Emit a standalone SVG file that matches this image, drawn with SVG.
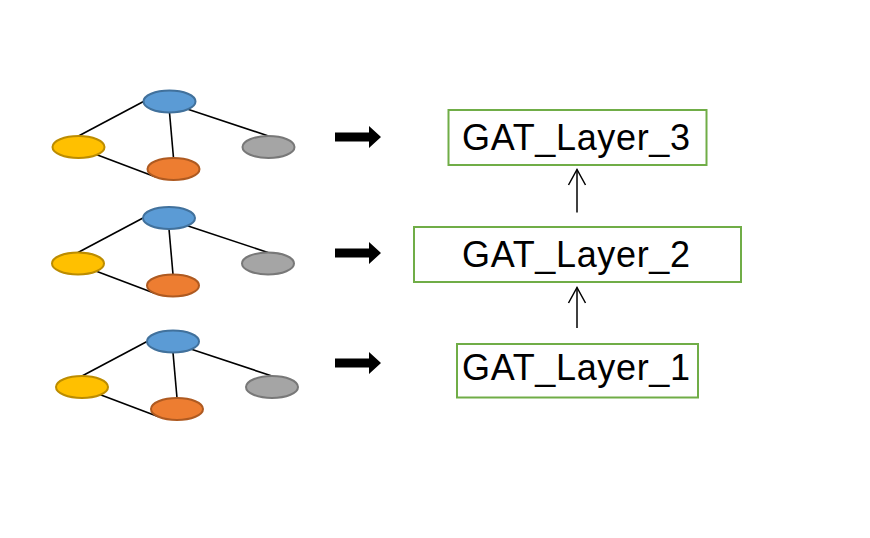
<svg xmlns="http://www.w3.org/2000/svg" width="870" height="538" viewBox="0 0 870 538">
<style>
.edge{stroke:#000;stroke-width:1.6;fill:none}
.nb{fill:#5B9BD5;stroke:#41719C;stroke-width:2}
.ny{fill:#FFC000;stroke:#BC8C00;stroke-width:2}
.no{fill:#ED7D31;stroke:#AE5A21;stroke-width:2}
.ng{fill:#A5A5A5;stroke:#787878;stroke-width:2}
.box{fill:#fff;stroke:#70AD47;stroke-width:2}
.lbl{font-family:"Liberation Sans",Arial,sans-serif;font-size:36px;fill:#000;text-anchor:middle}
.blk{fill:#000}
.up{stroke:#000;stroke-width:1.5;fill:none}
</style>
<rect width="870" height="538" fill="#fff"/>
<g id="connectors">
<line class="edge" x1="143.5" y1="101.5" x2="78.5" y2="136"/>
<line class="edge" x1="169.5" y1="112.5" x2="173.5" y2="158"/>
<line class="edge" x1="187.9" y1="109.3" x2="268.5" y2="136"/>
<line class="edge" x1="96.9" y1="154.8" x2="155.1" y2="176.8"/>
<line class="edge" x1="143" y1="218" x2="78" y2="252.5"/>
<line class="edge" x1="169" y1="229" x2="173" y2="274.5"/>
<line class="edge" x1="187.4" y1="225.8" x2="268" y2="252.5"/>
<line class="edge" x1="96.4" y1="271.3" x2="154.6" y2="293.3"/>
<line class="edge" x1="147" y1="341.5" x2="82" y2="376"/>
<line class="edge" x1="173" y1="352.5" x2="177" y2="398"/>
<line class="edge" x1="191.4" y1="349.3" x2="272" y2="376"/>
<line class="edge" x1="100.4" y1="394.8" x2="158.6" y2="416.8"/>
<path class="blk" d="M335,132.5H369V126L381,137L369,148V141.5H335Z"/>
<path class="blk" d="M335,248.5H369V242L381,253L369,264V257.5H335Z"/>
<path class="blk" d="M335,358.5H369V352L381,363L369,374V367.5H335Z"/>
<line class="up" x1="577" y1="212.5" x2="577" y2="169.5"/>
<polyline class="up" points="568.5,185 577,169.5 585.5,185"/>
<line class="up" x1="577" y1="328" x2="577" y2="287.5"/>
<polyline class="up" points="568.5,303 577,287.5 585.5,303"/>
</g>
<g id="g1-blue"><ellipse class="nb" cx="169.5" cy="101.5" rx="26" ry="11"/></g>
<g id="g1-yellow"><ellipse class="ny" cx="78.5" cy="147" rx="26" ry="11"/></g>
<g id="g1-orange"><ellipse class="no" cx="173.5" cy="169" rx="26" ry="11"/></g>
<g id="g1-gray"><ellipse class="ng" cx="268.5" cy="147" rx="26" ry="11"/></g>
<g id="g2-blue"><ellipse class="nb" cx="169" cy="218" rx="26" ry="11"/></g>
<g id="g2-yellow"><ellipse class="ny" cx="78" cy="263.5" rx="26" ry="11"/></g>
<g id="g2-orange"><ellipse class="no" cx="173" cy="285.5" rx="26" ry="11"/></g>
<g id="g2-gray"><ellipse class="ng" cx="268" cy="263.5" rx="26" ry="11"/></g>
<g id="g3-blue"><ellipse class="nb" cx="173" cy="341.5" rx="26" ry="11"/></g>
<g id="g3-yellow"><ellipse class="ny" cx="82" cy="387" rx="26" ry="11"/></g>
<g id="g3-orange"><ellipse class="no" cx="177" cy="409" rx="26" ry="11"/></g>
<g id="g3-gray"><ellipse class="ng" cx="272" cy="387" rx="26" ry="11"/></g>
<g id="layer3"><rect class="box" x="448.5" y="110" width="258" height="55"/><text class="lbl" x="576" y="149.5" textLength="228" lengthAdjust="spacing">GAT_Layer_3</text></g>
<g id="layer2"><rect class="box" x="414" y="227" width="327" height="55"/><text class="lbl" x="576" y="267" textLength="228" lengthAdjust="spacing">GAT_Layer_2</text></g>
<g id="layer1"><rect class="box" x="457" y="344" width="241" height="53.5"/><text class="lbl" x="576" y="379.5" textLength="228" lengthAdjust="spacing">GAT_Layer_1</text></g>
</svg>
